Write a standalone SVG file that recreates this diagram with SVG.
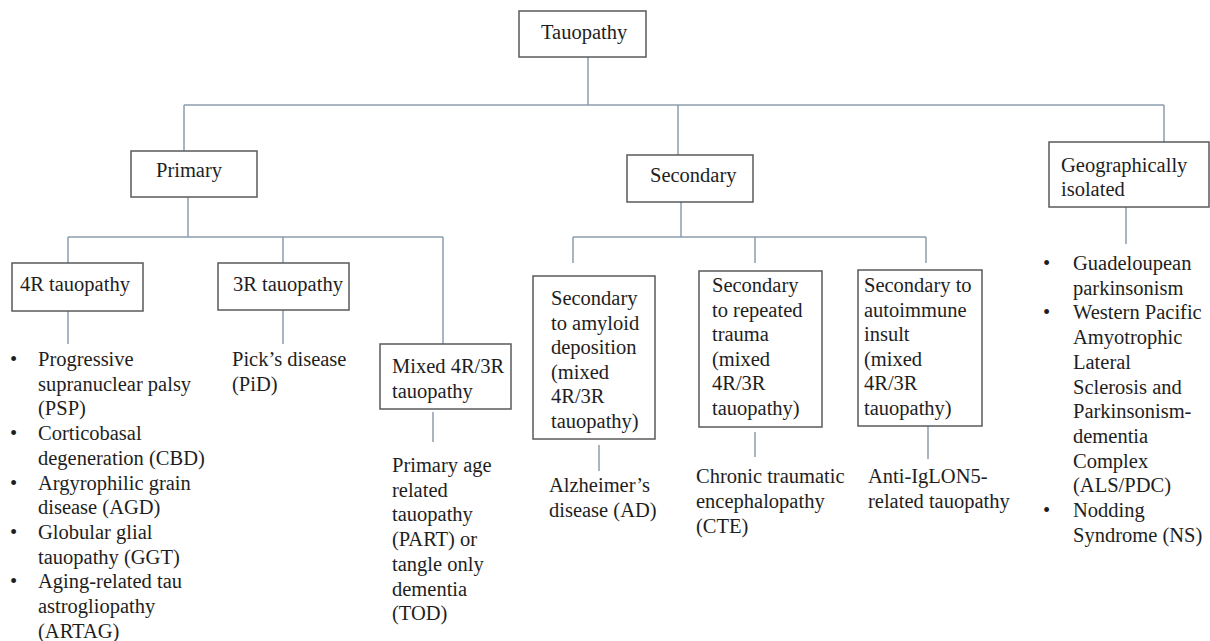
<svg xmlns="http://www.w3.org/2000/svg" width="1210" height="641" viewBox="0 0 1210 641">
<style>
  .bg { fill: #ffffff; }
  .box { fill: #ffffff; stroke: #5a5a5a; stroke-width: 1.5; }
  .t { font-size: 20.5px; fill: #1e1e1e; }
  .conn line { stroke: #8d9cab; stroke-width: 1.5; }
</style>
<rect class="bg" x="0" y="0" width="1210" height="641"/>

<g id="connectors" class="conn">
  <line x1="588" y1="57" x2="588" y2="105"/>
  <line x1="184" y1="105" x2="1164" y2="105"/>
  <line x1="184" y1="105" x2="184" y2="151"/>
  <line x1="678" y1="105" x2="678" y2="155"/>
  <line x1="1164" y1="105" x2="1164" y2="142"/>
  <line x1="188" y1="197" x2="188" y2="237"/>
  <line x1="68" y1="237" x2="443" y2="237"/>
  <line x1="68" y1="237" x2="68" y2="263"/>
  <line x1="283" y1="237" x2="283" y2="263"/>
  <line x1="443" y1="237" x2="443" y2="344"/>
  <line x1="68" y1="311" x2="68" y2="344"/>
  <line x1="283" y1="310" x2="283" y2="344"/>
  <line x1="433" y1="412" x2="433" y2="442"/>
  <line x1="681" y1="202" x2="681" y2="237"/>
  <line x1="573" y1="237" x2="926" y2="237"/>
  <line x1="573" y1="237" x2="573" y2="263"/>
  <line x1="755" y1="237" x2="755" y2="263"/>
  <line x1="926" y1="237" x2="926" y2="263"/>
  <line x1="599" y1="445" x2="599" y2="471"/>
  <line x1="755" y1="432" x2="755" y2="457"/>
  <line x1="928" y1="426" x2="928" y2="459"/>
  <line x1="1126" y1="207" x2="1126" y2="244"/>
</g>

<g font-family="Liberation Serif, Tinos, Times New Roman, DejaVu Serif, serif">
<g id="tauopathy">
  <rect class="box" x="519" y="11" width="127" height="46"/>
  <text class="t" x="541" y="39">Tauopathy</text>
</g>

<g id="primary">
  <rect class="box" x="131" y="151" width="126" height="46"/>
  <text class="t" x="156" y="177">Primary</text>
</g>

<g id="secondary">
  <rect class="box" x="627" y="155" width="126" height="47"/>
  <text class="t" x="650" y="182">Secondary</text>
</g>

<g id="geographic">
  <rect class="box" x="1049" y="142" width="160" height="65"/>
  <text class="t" x="1061" y="172">Geographically</text>
  <text class="t" x="1061" y="196">isolated</text>
</g>

<g id="r4">
  <rect class="box" x="12" y="263" width="131" height="48"/>
  <text class="t" x="20" y="291">4R tauopathy</text>
</g>

<g id="r4-list">
  <text class="t" x="10" y="366">•</text>
  <text class="t" x="38" y="366">Progressive</text>
  <text class="t" x="38" y="390.7">supranuclear palsy</text>
  <text class="t" x="38" y="415.4">(PSP)</text>
  <text class="t" x="10" y="440.1">•</text>
  <text class="t" x="38" y="440.1">Corticobasal</text>
  <text class="t" x="38" y="464.8">degeneration (CBD)</text>
  <text class="t" x="10" y="489.5">•</text>
  <text class="t" x="38" y="489.5">Argyrophilic grain</text>
  <text class="t" x="38" y="514.2">disease (AGD)</text>
  <text class="t" x="10" y="538.9">•</text>
  <text class="t" x="38" y="538.9">Globular glial</text>
  <text class="t" x="38" y="563.6">tauopathy (GGT)</text>
  <text class="t" x="10" y="588.3">•</text>
  <text class="t" x="38" y="588.3">Aging-related tau</text>
  <text class="t" x="38" y="613">astrogliopathy</text>
  <text class="t" x="38" y="637.7">(ARTAG)</text>
</g>

<g id="r3">
  <rect class="box" x="218" y="263" width="131" height="47"/>
  <text class="t" x="233" y="291">3R tauopathy</text>
</g>

<g id="pid">
  <text class="t" x="232" y="366">Pick’s disease</text>
  <text class="t" x="232" y="390.7">(PiD)</text>
</g>

<g id="mixed">
  <rect class="box" x="380" y="344" width="131" height="65"/>
  <text class="t" x="392" y="373">Mixed 4R/3R</text>
  <text class="t" x="392" y="398">tauopathy</text>
</g>

<g id="part">
  <text class="t" x="392" y="472">Primary age</text>
  <text class="t" x="392" y="496.7">related</text>
  <text class="t" x="392" y="521.4">tauopathy</text>
  <text class="t" x="392" y="546.1">(PART) or</text>
  <text class="t" x="392" y="570.8">tangle only</text>
  <text class="t" x="392" y="595.5">dementia</text>
  <text class="t" x="392" y="620.2">(TOD)</text>
</g>

<g id="amyloid">
  <rect class="box" x="533" y="276" width="122" height="163"/>
  <text class="t" x="551" y="305">Secondary</text>
  <text class="t" x="551" y="329.5">to amyloid</text>
  <text class="t" x="551" y="354">deposition</text>
  <text class="t" x="551" y="378.5">(mixed</text>
  <text class="t" x="551" y="403">4R/3R</text>
  <text class="t" x="551" y="427.5">tauopathy)</text>
</g>

<g id="ad">
  <text class="t" x="549" y="492">Alzheimer’s</text>
  <text class="t" x="549" y="517">disease (AD)</text>
</g>

<g id="trauma">
  <rect class="box" x="699" y="271" width="123" height="156"/>
  <text class="t" x="712" y="292">Secondary</text>
  <text class="t" x="712" y="316.5">to repeated</text>
  <text class="t" x="712" y="341">trauma</text>
  <text class="t" x="712" y="365.5">(mixed</text>
  <text class="t" x="712" y="390">4R/3R</text>
  <text class="t" x="712" y="414.5">tauopathy)</text>
</g>

<g id="cte">
  <text class="t" x="696" y="483">Chronic traumatic</text>
  <text class="t" x="696" y="508">encephalopathy</text>
  <text class="t" x="696" y="533">(CTE)</text>
</g>

<g id="autoimmune">
  <rect class="box" x="858" y="270" width="124" height="156"/>
  <text class="t" x="864" y="292">Secondary to</text>
  <text class="t" x="864" y="316.5">autoimmune</text>
  <text class="t" x="864" y="341">insult</text>
  <text class="t" x="864" y="365.5">(mixed</text>
  <text class="t" x="864" y="390">4R/3R</text>
  <text class="t" x="864" y="414.5">tauopathy)</text>
</g>

<g id="iglon5">
  <text class="t" x="868" y="483">Anti-IgLON5-</text>
  <text class="t" x="868" y="508">related tauopathy</text>
</g>

<g id="geo-list">
  <text class="t" x="1043" y="270">•</text>
  <text class="t" x="1073" y="270">Guadeloupean</text>
  <text class="t" x="1073" y="294.7">parkinsonism</text>
  <text class="t" x="1043" y="319.4">•</text>
  <text class="t" x="1073" y="319.4">Western Pacific</text>
  <text class="t" x="1073" y="344.1">Amyotrophic</text>
  <text class="t" x="1073" y="368.8">Lateral</text>
  <text class="t" x="1073" y="393.5">Sclerosis and</text>
  <text class="t" x="1073" y="418.2">Parkinsonism-</text>
  <text class="t" x="1073" y="442.9">dementia</text>
  <text class="t" x="1073" y="467.6">Complex</text>
  <text class="t" x="1073" y="492.3">(ALS/PDC)</text>
  <text class="t" x="1043" y="517">•</text>
  <text class="t" x="1073" y="517">Nodding</text>
  <text class="t" x="1073" y="541.7">Syndrome (NS)</text>
</g>
</g>
</svg>
